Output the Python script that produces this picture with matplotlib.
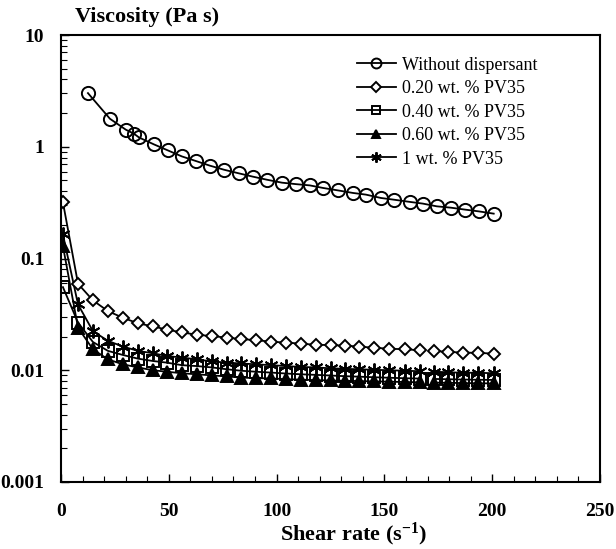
import numpy as np
import matplotlib
matplotlib.use("Agg")
import matplotlib.pyplot as plt

plt.rcParams['font.family'] = ['Liberation Serif', 'DejaVu Serif']
plt.rcParams['mathtext.fontset'] = 'custom'
plt.rcParams['mathtext.rm'] = 'Liberation Serif'
plt.rcParams['mathtext.bf'] = 'Liberation Serif:bold'
plt.rcParams['mathtext.it'] = 'Liberation Serif:italic'

# Shear rates (s^-1)
x_none = [12.5, 22.7, 30.1, 33.8, 36.2, 43.1, 49.6, 56.1, 62.6, 69.1, 75.6, 82.5, 89.0, 95.5,
          102.5, 108.9, 115.4, 121.5, 128.4, 135.4, 141.4, 148.4, 154.4, 161.8, 167.8, 174.3,
          180.8, 187.3, 193.8, 200.7]
x_disp = [0.9, 7.9, 14.8, 21.8, 28.7, 35.7, 42.6, 49.1, 56.1, 63.0, 70.0, 77.0, 83.5, 90.4,
          97.4, 104.3, 111.3, 118.2, 125.2, 131.7, 138.2, 145.1, 152.1, 159.5, 166.4,
          172.9, 179.4, 186.4, 193.3, 200.7]

# Viscosities (Pa s)
v_none = [3.02, 1.78, 1.42, 1.31, 1.21, 1.05, 0.927, 0.819, 0.745, 0.677, 0.623, 0.578, 0.540,
          0.507, 0.477, 0.463, 0.451, 0.428, 0.407, 0.386, 0.373, 0.348, 0.336, 0.321, 0.310,
          0.293, 0.285, 0.274, 0.264, 0.252]
v_020 = [0.318, 0.0594, 0.0422, 0.0338, 0.0295, 0.0263, 0.0247, 0.0231, 0.0218, 0.0208, 0.0202,
         0.0196, 0.0190, 0.0186, 0.0180, 0.0177, 0.0173, 0.0169, 0.0168, 0.0166, 0.0163, 0.0159,
         0.0156, 0.0154, 0.0151, 0.0149, 0.0146, 0.0144, 0.0143, 0.0141]
v_040 = [0.0554, 0.0267, 0.0179, 0.0149, 0.0137, 0.0127, 0.0121, 0.0117, 0.0111, 0.0109, 0.0106,
         0.0102, 0.0099, 0.0097, 0.00953, 0.00935, 0.0092, 0.00909, 0.00897, 0.00885, 0.00876,
         0.00866, 0.00857, 0.00848, 0.00843, 0.00836, 0.00831, 0.00826, 0.00822, 0.00819]
v_060 = [0.129, 0.0240, 0.0154, 0.0125, 0.0113, 0.0106, 0.0100, 0.0097, 0.0094, 0.0092, 0.0090,
         0.0088, 0.0086, 0.0085, 0.00845, 0.00832, 0.00824, 0.00816, 0.0081, 0.00805, 0.0080,
         0.00795, 0.0079, 0.00785, 0.0078, 0.00775, 0.00772, 0.00768, 0.00765, 0.00762]
v_100 = [0.164, 0.0388, 0.0224, 0.0183, 0.0163, 0.0149, 0.0142, 0.0134, 0.0130, 0.0125, 0.0120,
         0.0117, 0.0115, 0.0113, 0.0111, 0.0109, 0.0107, 0.0106, 0.0104, 0.0103, 0.0102, 0.0101,
         0.0100, 0.0099, 0.0098, 0.0097, 0.0096, 0.0095, 0.0095, 0.0094]

labels = ["Without dispersant", "0.20 wt. % PV35", "0.40 wt. % PV35",
          "0.60 wt. % PV35", "1 wt. % PV35"]
x_ticks = [0, 50, 100, 150, 200, 250]
y_ticks = [0.001, 0.01, 0.1, 1, 10]
y_ticklabels = ["0.001", "0.01", "0.1", "1", "10"]

fig = plt.figure(figsize=(6.16, 5.49), dpi=100)
ax = fig.add_axes([61/616, 1-482/549, 539/616, 447/549])

lw = 1.3
common = dict(color='black', linewidth=lw, markeredgecolor='black', markeredgewidth=1.4)
split = 25  # gap in measured series lines

ax.plot(x_none, v_none, marker='o', markersize=9.5, markerfacecolor='none',
        label=labels[0], **common)

styles = [
    (v_040, dict(marker='s', markersize=8, markerfacecolor='none'), labels[2]),
    (v_060, dict(marker='^', markersize=8, markerfacecolor='black'), labels[3]),
    (v_100, dict(marker=(6, 2, 0), markersize=10), labels[4]),
    (v_020, dict(marker='D', markersize=6.5, markerfacecolor='white'), labels[1]),
]
for vals, st, lab in styles:
    ax.plot(x_disp[:split], vals[:split], label=lab, **st, **common)
    ax.plot(x_disp[split:], vals[split:], **st, **common)

ax.set_yscale('log')
ax.set_xlim(0, 250)
ax.set_ylim(0.001, 10)
ax.set_xticks(x_ticks)
ax.set_xticks(np.arange(0, 251, 10), minor=True)
ax.set_yticks(y_ticks)
ax.set_yticklabels(y_ticklabels)
ax.tick_params(axis='both', which='both', direction='in', top=False, right=False)
ax.tick_params(axis='x', which='major', length=6, width=1, pad=15, labelsize=14)
ax.tick_params(axis='x', which='minor', length=4, width=0.8)
ax.tick_params(axis='y', which='major', length=6, width=1, pad=12, labelsize=14)
ax.tick_params(axis='y', which='minor', length=4, width=0.8)
for lab in ax.get_xticklabels() + ax.get_yticklabels():
    lab.set_fontweight('bold')
for sp in ax.spines.values():
    sp.set_linewidth(1.5)

hl, ll = ax.get_legend_handles_labels()
order = [labels.index(l) for l in ll]
pairs = sorted(zip(order, hl, ll))
leg = ax.legend([p[1] for p in pairs], [p[2] for p in pairs], loc='upper left',
                bbox_to_anchor=(0.535, 0.968), frameon=False, fontsize=13,
                handlelength=2.2, handletextpad=0.3, labelspacing=0.36, borderaxespad=0,
                markerscale=0.75)

fig.text(75/616, 1-17/549, "Viscosity (Pa s)", fontsize=16, fontweight='bold',
         ha='left', va='center')
fig.text(353/616, 1-534/549, r"Shear rate (s$^{\mathbf{-1}}$)", fontsize=16,
         fontweight='bold', ha='center', va='center')

fig.savefig("out.png", dpi=100)
